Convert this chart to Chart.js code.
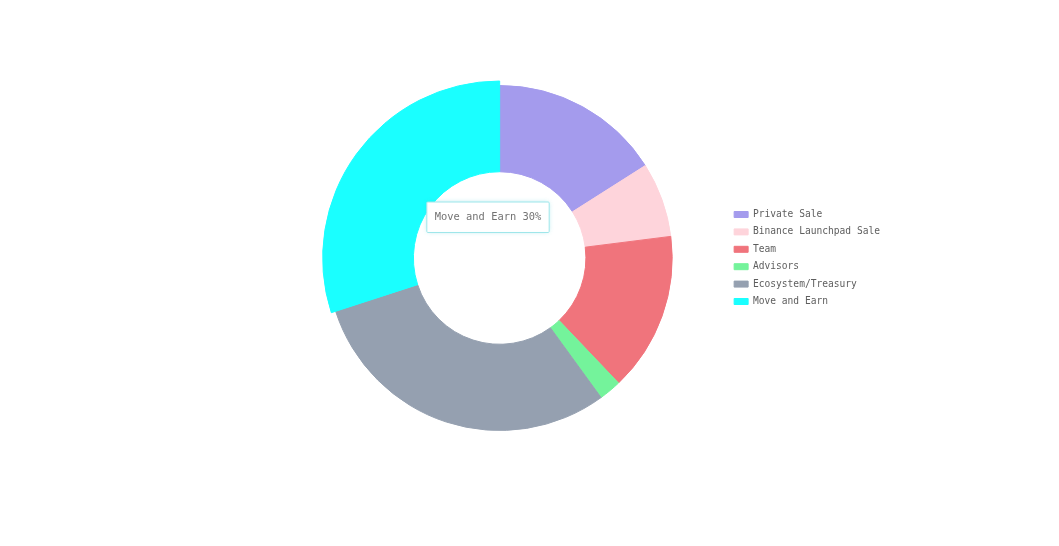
<!DOCTYPE html>
<html>
<head>
<meta charset="utf-8">
<title>Token Allocation</title>
<script src="https://cdn.jsdelivr.net/npm/chart.js@4.4.1/dist/chart.umd.min.js"></script>
<style>
  html, body { margin: 0; padding: 0; background: #ffffff; }
  #wrap { width: 1059px; height: 546px; position: relative; }
</style>
</head>
<body>
<div id="wrap"><canvas id="chart"></canvas></div>
<script>
// Token allocation, in percent
const categories = ['Private Sale', 'Binance Launchpad Sale', 'Team', 'Advisors', 'Ecosystem/Treasury', 'Move and Earn'];
const allocation = [16, 7, 14.9, 2.1, 30, 30];
const sliceColors = ['#a49bed', '#fed4db', '#f0747c', '#74f39b', '#95a0b0', '#1affff'];
const highlighted = 5;
const highlightGrow = 4.5;

const MONO = '"DejaVu Sans Mono", "Liberation Mono", monospace';

// Pin the tooltip inside the hole of the ring
Chart.Tooltip.positioners.centerHole = function () {
  return { x: 488, y: 202, xAlign: 'center', yAlign: 'top' };
};

// The highlighted slice gets a slightly larger outer radius
const growHighlighted = {
  id: 'growHighlighted',
  beforeDatasetsDraw(chart) {
    const meta = chart.getDatasetMeta(0);
    const arc = meta.data[highlighted];
    if (arc) arc.outerRadius = meta.controller.outerRadius + highlightGrow;
  }
};

// Soft glow behind the tooltip box
const tooltipGlow = {
  id: 'tooltipGlow',
  beforeTooltipDraw(chart, args) {
    const tt = args.tooltip;
    if (!tt || tt.opacity === 0) return;
    const ctx = chart.ctx;
    ctx.save();
    ctx.shadowColor = 'rgba(60, 200, 210, 0.45)';
    ctx.shadowBlur = 5;
    ctx.fillStyle = '#ffffff';
    ctx.fillRect(tt.x, tt.y, tt.width, tt.height);
    ctx.restore();
  }
};

const chart = new Chart(document.getElementById('chart'), {
  type: 'doughnut',
  data: {
    labels: categories,
    datasets: [{
      data: allocation,
      backgroundColor: sliceColors,
      hoverBackgroundColor: sliceColors,
      borderColor: sliceColors,
      hoverBorderColor: sliceColors,
      borderWidth: 1,
      hoverBorderWidth: 1,
      offset: 0,
      hoverOffset: 0
    }]
  },
  options: {
    responsive: true,
    maintainAspectRatio: false,
    animation: false,
    cutout: '50%',
    layout: { padding: { left: 273, right: 169, top: 85, bottom: 115 } },
    events: [],
    plugins: {
      legend: {
        position: 'right',
        align: 'center',
        labels: {
          boxWidth: 14,
          boxHeight: 6,
          padding: 7.8,
          color: '#5e5e5e',
          font: { family: MONO, size: 9.6 }
        }
      },
      tooltip: {
        position: 'centerHole',
        backgroundColor: '#ffffff',
        borderColor: '#9ee6ea',
        borderWidth: 1,
        cornerRadius: 1,
        caretSize: 0,
        caretPadding: 0,
        displayColors: false,
        padding: { x: 8, y: 9 },
        bodyColor: '#737373',
        bodyFont: { family: MONO, size: 10.4 },
        callbacks: {
          title: () => '',
          label: (item) => item.label + ' ' + item.raw + '%'
        }
      }
    }
  },
  plugins: [growHighlighted, tooltipGlow]
});

chart.tooltip.setActiveElements([{ datasetIndex: 0, index: highlighted }], { x: 488, y: 202 });
chart.update();
</script>
</body>
</html>
